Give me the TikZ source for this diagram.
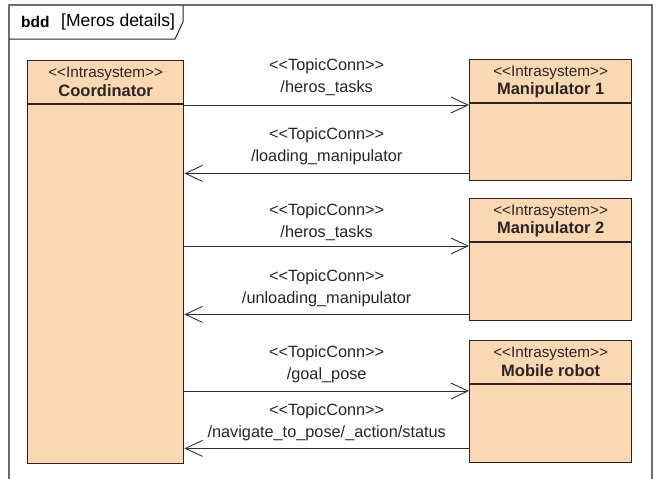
\documentclass[tikz,border=0pt]{standalone}
\usepackage{fontspec}
\setmainfont{Liberation Sans}[Ligatures=TeXOff]
\usetikzlibrary{arrows.meta,calc}
\definecolor{peach}{RGB}{250,216,180}
\definecolor{boxline}{RGB}{45,35,35}
\definecolor{framegray}{RGB}{110,110,110}
\definecolor{connline}{RGB}{50,50,50}
\tikzset{
  blockbox/.style={draw=boxline, fill=peach, line width=1.4pt, anchor=north west, inner sep=0pt},
  stereo/.style={font={\fontsize{15.3}{17}\selectfont}, text=boxline, inner sep=0pt},
  bname/.style={font={\fontsize{16.5}{18}\selectfont\bfseries}, text=boxline, inner sep=0pt},
  conn/.style={draw=connline, line width=0.9pt},
  openarrow/.style={-{Straight Barb[length=17pt,width=16pt,line width=0.9pt]}},
  toplabel/.style={font={\fontsize{16.3}{22}\selectfont}, align=center, text=black!85, inner sep=0pt}
}
\begin{document}
\begin{tikzpicture}[x=1pt,y=-1pt]
\useasboundingbox (0,0) rectangle (657,479);
% frame
\draw[framegray, line width=1.2pt] (9,479) -- (9,5) -- (652,5) -- (652,479);
\draw[boxline, line width=1pt] (9,39) -- (175,39) -- (183,22) -- (183,5);
\node[anchor=west, inner sep=0pt, font={\fontsize{15.5}{18}\selectfont\bfseries}] (kind) at (21,22) {bdd};
\node[anchor=west, inner sep=0pt, font={\fontsize{17.5}{19}\selectfont}] (fname) at (61,22) {[Meros details]};

% blocks
\node[blockbox, minimum width=156pt, minimum height=403pt] (coord) at (27,60) {};
\node[blockbox, minimum width=162pt, minimum height=121pt] (m1) at (469,59) {};
\node[blockbox, minimum width=162pt, minimum height=122pt] (m2) at (469,198) {};
\node[blockbox, minimum width=162pt, minimum height=122pt] (mr) at (469,340) {};

\foreach \b/\n in {coord/Coordinator, m1/Manipulator 1, m2/Manipulator 2, mr/Mobile robot}{
  \draw[boxline, line width=1.4pt] ($(\b.north west)+(0,44)$) -- ($(\b.north east)+(0,44)$);
  \node[stereo] (\b-st) at ($(\b.north)+(0,14)$) {<<Intrasystem>>};
  \node[bname] (\b-nm) at ($(\b.north)+(0,31)$) {\n};
}

% connector end points on the right blocks
\coordinate (a1) at ($(m1.north west)+(0,46)$);
\coordinate (a2) at ($(m1.south west)+(0,-8)$);
\coordinate (a3) at ($(m2.north west)+(0,48)$);
\coordinate (a4) at ($(m2.south west)+(0,-7)$);
\coordinate (a5) at ($(mr.north west)+(0,51)$);
\coordinate (a6) at ($(mr.south west)+(0,-15)$);

\draw[conn, openarrow] (coord.east |- a1) -- (a1)
  node[toplabel, midway, yshift=28pt] (l1) {<<TopicConn>>\\/heros\_tasks};
\draw[conn, openarrow] (a2) -- (coord.east |- a2)
  node[toplabel, midway, yshift=27pt] (l2) {<<TopicConn>>\\/loading\_manipulator};
\draw[conn, openarrow] (coord.east |- a3) -- (a3)
  node[toplabel, midway, yshift=24pt] (l3) {<<TopicConn>>\\/heros\_tasks};
\draw[conn, openarrow] (a4) -- (coord.east |- a4)
  node[toplabel, midway, yshift=26pt] (l4) {<<TopicConn>>\\/unloading\_manipulator};
\draw[conn, openarrow] (coord.east |- a5) -- (a5)
  node[toplabel, midway, yshift=27pt] (l5) {<<TopicConn>>\\/goal\_pose};
\draw[conn, openarrow] (a6) -- (coord.east |- a6)
  node[toplabel, midway, yshift=26pt] (l6) {<<TopicConn>>\\/navigate\_to\_pose/\_action/status};
\end{tikzpicture}
\end{document}
